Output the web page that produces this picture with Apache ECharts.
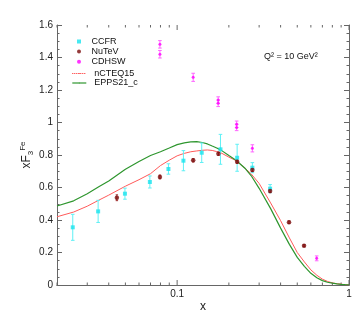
<!DOCTYPE html>
<html><head><meta charset="utf-8">
<script src="https://cdn.jsdelivr.net/npm/echarts@6/dist/echarts.min.js"></script>
<style>html,body{margin:0;padding:0;background:#fff}#c{width:357px;height:333px}</style>
</head><body><div id="c"></div>
<script>
// ---- data ----
const ccfrX = [0.0247, 0.0347, 0.0497, 0.0694, 0.089, 0.1088, 0.139, 0.1787, 0.2234, 0.274, 0.3475];
const ccfrY = [0.355, 0.453, 0.562, 0.634, 0.714, 0.765, 0.814, 0.835, 0.783, 0.722, 0.593];
const ccfrErr = [0.08, 0.068, 0.034, 0.037, 0.032, 0.062, 0.06, 0.092, 0.083, 0.031, 0.025];

const nutevX = [0.0446, 0.0794, 0.124, 0.1738, 0.2234, 0.274, 0.3475, 0.4477, 0.5476];
const nutevY = [0.537, 0.665, 0.767, 0.808, 0.759, 0.708, 0.578, 0.386, 0.242];
const nutevErr = [0.018, 0.012, 0.01, 0.01, 0.01, 0.01, 0.01, 0.008, 0.006];

const cdhswX = [0.0794, 0.0794, 0.124, 0.1733, 0.1733, 0.222, 0.222, 0.274, 0.6486];
const cdhswY = [1.481, 1.42, 1.278, 1.138, 1.118, 0.989, 0.970, 0.841, 0.164];
const cdhswErr = [0.023, 0.023, 0.025, 0.02, 0.02, 0.02, 0.02, 0.022, 0.015];

const curveX = [0.02, 0.025, 0.03, 0.035, 0.04, 0.05, 0.06, 0.07, 0.08, 0.09, 0.1, 0.11, 0.12, 0.13, 0.14, 0.15, 0.16, 0.17, 0.18, 0.2, 0.22, 0.25, 0.27, 0.3, 0.35, 0.4, 0.45, 0.5, 0.55, 0.6, 0.65, 0.7, 0.75, 0.8, 0.85, 0.9, 0.95, 1.0];
const ncteqY = [0.42, 0.449, 0.485, 0.522, 0.553, 0.608, 0.648, 0.685, 0.735, 0.768, 0.795, 0.81, 0.82, 0.825, 0.829, 0.831, 0.828, 0.821, 0.813, 0.787, 0.766, 0.716, 0.683, 0.625, 0.505, 0.396, 0.29, 0.2, 0.142, 0.093, 0.06, 0.036, 0.022, 0.013, 0.008, 0.005, 0.002, 0.001];
const eppsY = [0.486, 0.518, 0.562, 0.604, 0.64, 0.712, 0.76, 0.797, 0.82, 0.843, 0.864, 0.875, 0.881, 0.882, 0.877, 0.868, 0.855, 0.843, 0.83, 0.797, 0.768, 0.715, 0.672, 0.595, 0.47, 0.35, 0.25, 0.17, 0.115, 0.072, 0.045, 0.027, 0.017, 0.011, 0.007, 0.004, 0.002, 0.001];

const xMajorTicks = [0.1, 1];
const xMinorTicks = [0.02, 0.03, 0.04, 0.05, 0.06, 0.07, 0.08, 0.09, 0.2, 0.3, 0.4, 0.5, 0.6, 0.7, 0.8, 0.9];
const xTickLabels = ['0.1', '1'];
const yMin = 0, yMax = 1.6, yStep = 0.2;

// ---- helpers ----
function zip3(a, b, c) { return a.map((v, i) => [v, b[i], c[i]]); }

function errSeries(xs, ys, es, color, cap) {
  return {
    type: 'custom', silent: true, z: 3,
    renderItem: function (params, api) {
      const x = api.value(0), y = api.value(1), e = api.value(2);
      const t = api.coord([x, y + e]), b = api.coord([x, y - e]);
      const st = { stroke: color, lineWidth: 1 };
      return { type: 'group', children: [
        { type: 'line', shape: { x1: t[0], y1: t[1], x2: b[0], y2: b[1] }, style: st },
        { type: 'line', shape: { x1: t[0] - cap, y1: t[1], x2: t[0] + cap, y2: t[1] }, style: st },
        { type: 'line', shape: { x1: b[0] - cap, y1: b[1], x2: b[0] + cap, y2: b[1] }, style: st }
      ]};
    },
    data: zip3(xs, ys, es)
  };
}

const tickData = xMajorTicks.map(v => [v, 1]).concat(xMinorTicks.map(v => [v, 0]));

const axisColor = '#666';
const labelColor = '#222';
const font = 'Liberation Sans, Arial, sans-serif';
const redColor = '#ff5a5a';
const redDot = '#ff2020';
const greenColor = '#2e962e';

const chart = echarts.init(document.getElementById('c'), null, { renderer: 'canvas' });
chart.setOption({
  animation: false,
  backgroundColor: '#fff',
  grid: { left: 57, right: 8, top: 25, bottom: 48, containLabel: false, outerBoundsMode: 'none' },
  textStyle: { fontFamily: font },
  legend: [{
    orient: 'vertical', left: 72, top: 32,
    itemWidth: 4, itemHeight: 4, itemGap: 1.1,
    textStyle: { fontSize: 9, color: '#111', fontFamily: font, padding: [0, 0, 0, 5.5] },
    data: [
      { name: 'CCFR', icon: 'rect' },
      { name: 'NuTeV', icon: 'circle' },
      { name: 'CDHSW', icon: 'circle' }
    ]
  }, {
    orient: 'vertical', left: 66.7, top: 64,
    itemWidth: 14, itemHeight: 1.2, itemGap: 0.5,
    textStyle: { fontSize: 9, color: '#111', fontFamily: font, padding: [0, 0, 0, 3] },
    data: [
      { name: 'nCTEQ15', lineStyle: { color: redDot, width: 1, type: [1, 1] }, itemStyle: { color: redDot } },
      { name: 'EPPS21_c', lineStyle: { color: greenColor, width: 1.2 }, itemStyle: { color: greenColor } }
    ]
  }],
  graphic: [{
    type: 'text', left: 264, top: 52,
    style: { text: 'Q² = 10 GeV²', fontSize: 9, fill: '#111', fontFamily: font }
  }],
  xAxis: [{
    type: 'log', logBase: 10, min: 0.02, max: 1,
    name: 'x', nameLocation: 'middle', nameGap: 16, nameMoveOverlap: false,
    nameTextStyle: { fontSize: 12, color: labelColor, fontFamily: font },
    axisLine: { lineStyle: { color: axisColor } },
    axisTick: { show: false }, minorTick: { show: false },
    splitLine: { show: false },
    axisLabel: {
      fontSize: 10, color: labelColor, margin: 4, fontFamily: font,
      formatter: function (v) {
        for (let i = 0; i < xMajorTicks.length; i++) {
          if (Math.abs(v - xMajorTicks[i]) < 1e-9 * xMajorTicks[i] + 1e-12) return xTickLabels[i];
        }
        return '';
      }
    }
  }, {
    type: 'log', logBase: 10, min: 0.02, max: 1, position: 'top',
    axisLine: { lineStyle: { color: axisColor } },
    axisTick: { show: false }, axisLabel: { show: false }, splitLine: { show: false }
  }],
  yAxis: [{
    type: 'value', min: yMin, max: yMax, interval: yStep,
    name: '{m|xF}{s|3}{p|Fe}', nameLocation: 'middle', nameGap: 22, nameRotate: 90,
    nameMoveOverlap: false,
    nameTextStyle: {
      color: labelColor, fontFamily: font,
      rich: {
        m: { fontSize: 12, lineHeight: 16, verticalAlign: 'middle', fontFamily: font, color: labelColor },
        s: { fontSize: 8, lineHeight: 8, verticalAlign: 'bottom', fontFamily: font, color: labelColor },
        p: { fontSize: 8, lineHeight: 8, verticalAlign: 'top', fontFamily: font, color: labelColor }
      }
    },
    axisLine: { show: true, lineStyle: { color: axisColor } },
    axisTick: { show: true, inside: true, length: 5, lineStyle: { color: axisColor } },
    minorTick: { show: true, splitNumber: 4, length: 2.5, lineStyle: { color: axisColor } },
    splitLine: { show: false },
    axisLabel: { fontSize: 10, color: labelColor, margin: 4, fontFamily: font }
  }, {
    type: 'value', min: yMin, max: yMax, interval: yStep, position: 'right',
    axisLine: { show: true, lineStyle: { color: axisColor } },
    axisTick: { show: true, inside: true, length: 5, lineStyle: { color: axisColor } },
    minorTick: { show: true, splitNumber: 4, length: 2.5, lineStyle: { color: axisColor } },
    splitLine: { show: false },
    axisLabel: { show: false }
  }],
  series: [
    {
      type: 'custom', silent: true, z: 1, clip: false,
      renderItem: function (params, api) {
        const v = api.value(0), major = api.value(1) === 1;
        const len = major ? 5 : 2.5;
        const b = api.coord([v, yMin]), t = api.coord([v, yMax]);
        const st = { stroke: axisColor, lineWidth: 1 };
        return { type: 'group', children: [
          { type: 'line', shape: { x1: b[0], y1: b[1], x2: b[0], y2: b[1] - len }, style: st },
          { type: 'line', shape: { x1: t[0], y1: t[1], x2: t[0], y2: t[1] + len }, style: st }
        ]};
      },
      data: tickData
    },
    {
      name: 'nCTEQ15', type: 'line', showSymbol: false, symbol: 'none', z: 2,
      lineStyle: { color: redColor, width: 1 }, itemStyle: { color: redDot },
      data: curveX.map((x, i) => [x, ncteqY[i]])
    },
    {
      name: 'EPPS21_c', type: 'line', showSymbol: false, symbol: 'none', z: 2,
      lineStyle: { color: greenColor, width: 1.2 }, itemStyle: { color: greenColor },
      data: curveX.map((x, i) => [x, eppsY[i]])
    },
    errSeries(ccfrX, ccfrY, ccfrErr, '#5ef0f5', 1.8),
    errSeries(nutevX, nutevY, nutevErr, '#a03030', 1.2),
    errSeries(cdhswX, cdhswY, cdhswErr, '#ff66ff', 1.8),
    {
      name: 'CCFR', type: 'scatter', symbol: 'rect', symbolSize: 4, z: 4,
      itemStyle: { color: '#19e3ee' },
      data: ccfrX.map((x, i) => [x, ccfrY[i]])
    },
    {
      name: 'NuTeV', type: 'scatter', symbol: 'circle', symbolSize: 4.5, z: 5,
      itemStyle: { color: '#7a0a0a' },
      data: nutevX.map((x, i) => [x, nutevY[i]])
    },
    {
      name: 'CDHSW', type: 'scatter', symbol: 'circle', symbolSize: 3, z: 5,
      itemStyle: { color: '#ff00ff' },
      data: cdhswX.map((x, i) => [x, cdhswY[i]])
    }
  ]
});
</script></body></html>
